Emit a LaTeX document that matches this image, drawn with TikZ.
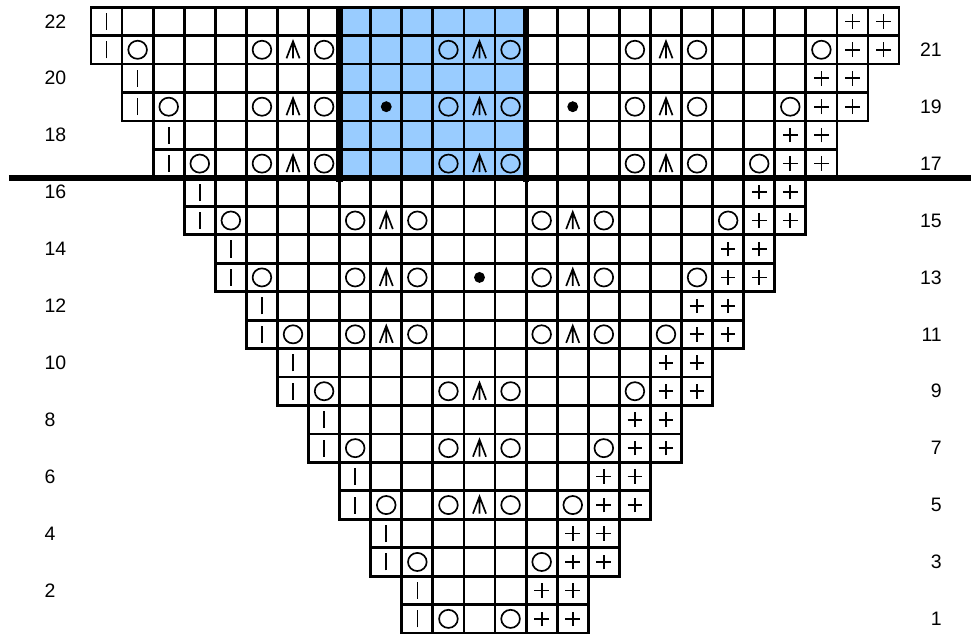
\documentclass[tikz,border=0pt]{standalone}
\usepackage{fontspec}
\setmainfont{Liberation Sans}
\definecolor{chartblue}{RGB}{153,204,255}

\begin{document}
\begin{tikzpicture}[x=23.31pt,y=21.34pt]
  \tikzstyle{cellbox}=[line width=2.1pt]
  \tikzstyle{sym}=[line width=1.25pt]
  \tikzstyle{rowno}=[font=\fontsize{14.6}{17}\selectfont,inner sep=0pt]
  \tikzset{
    yo/.pic={\draw[sym] (0,0) ellipse (7pt and 6.8pt);},
    knit/.pic={\draw[sym] (0,-6.4pt) -- (0,6.4pt);},
    purl/.pic={\draw[sym] (-5.5pt,0) -- (5.5pt,0) (0,-5.5pt) -- (0,5.5pt);},
    cdd/.pic={\draw[sym] (-4.9pt,-6.4pt) -- (0,6.4pt) -- (4.9pt,-6.4pt) (0,6.4pt) -- (0,-6.4pt);},
    bobble/.pic={\fill (0,0) circle (4.1pt);}
  }
  \useasboundingbox (-2.928,-0.035) rectangle (28.314,22.25);
  % repeat section
  \fill[chartblue] (8,16) rectangle (14,22);
  % two rows per step, one cell wider on each side
  \foreach \p in {1,...,11}{
    \pgfmathtruncatemacro{\a}{11-\p}
    \pgfmathtruncatemacro{\b}{14+\p}
    \foreach \cl in {\a,...,\b}
      \draw[cellbox] (\cl,2*\p-2) rectangle ++(1,1) (\cl,2*\p-1) rectangle ++(1,1);
    \foreach \y in {2*\p-1.5,2*\p-0.5}{
      \pic at (\a+0.5,\y) {knit};
      \pic at (\b-0.5,\y) {purl};
      \pic at (\b+0.5,\y) {purl};
    }
    \pic at (\a+1.5,2*\p-1.5) {yo};
    \pic at (\b-1.5,2*\p-1.5) {yo};
  }
  \foreach \rw/\cl in {5/11,7/11,9/11,11/8,11/14,13/8,13/14,15/8,15/14,17/5,17/11,17/17,19/5,19/11,19/17,21/5,21/11,21/17}{
    \pic at (\cl+0.5,\rw-0.5) {yo};
    \pic at (\cl+1.5,\rw-0.5) {cdd};
    \pic at (\cl+2.5,\rw-0.5) {yo};
  }
  \foreach \rw/\cl in {13/12,19/9,19/15}
    \pic at (\cl+0.5,\rw-0.5) {bobble};
  % thick borders
  \draw[line width=5pt] (-2.64,16) -- (28.314,16);
  \draw[line width=5pt] (8,15.85) -- (8,22) (14,15.85) -- (14,22);
  % row numbers
  \foreach \rw in {2,4,...,22}
    \node[rowno,anchor=west] (left\rw) at (-1.5,\rw-0.5) {\rw};
  \foreach \rw in {1,3,...,21}
    \node[rowno,anchor=east] (right\rw) at (27.38,\rw-0.5) {\rw};
\end{tikzpicture}
\end{document}
